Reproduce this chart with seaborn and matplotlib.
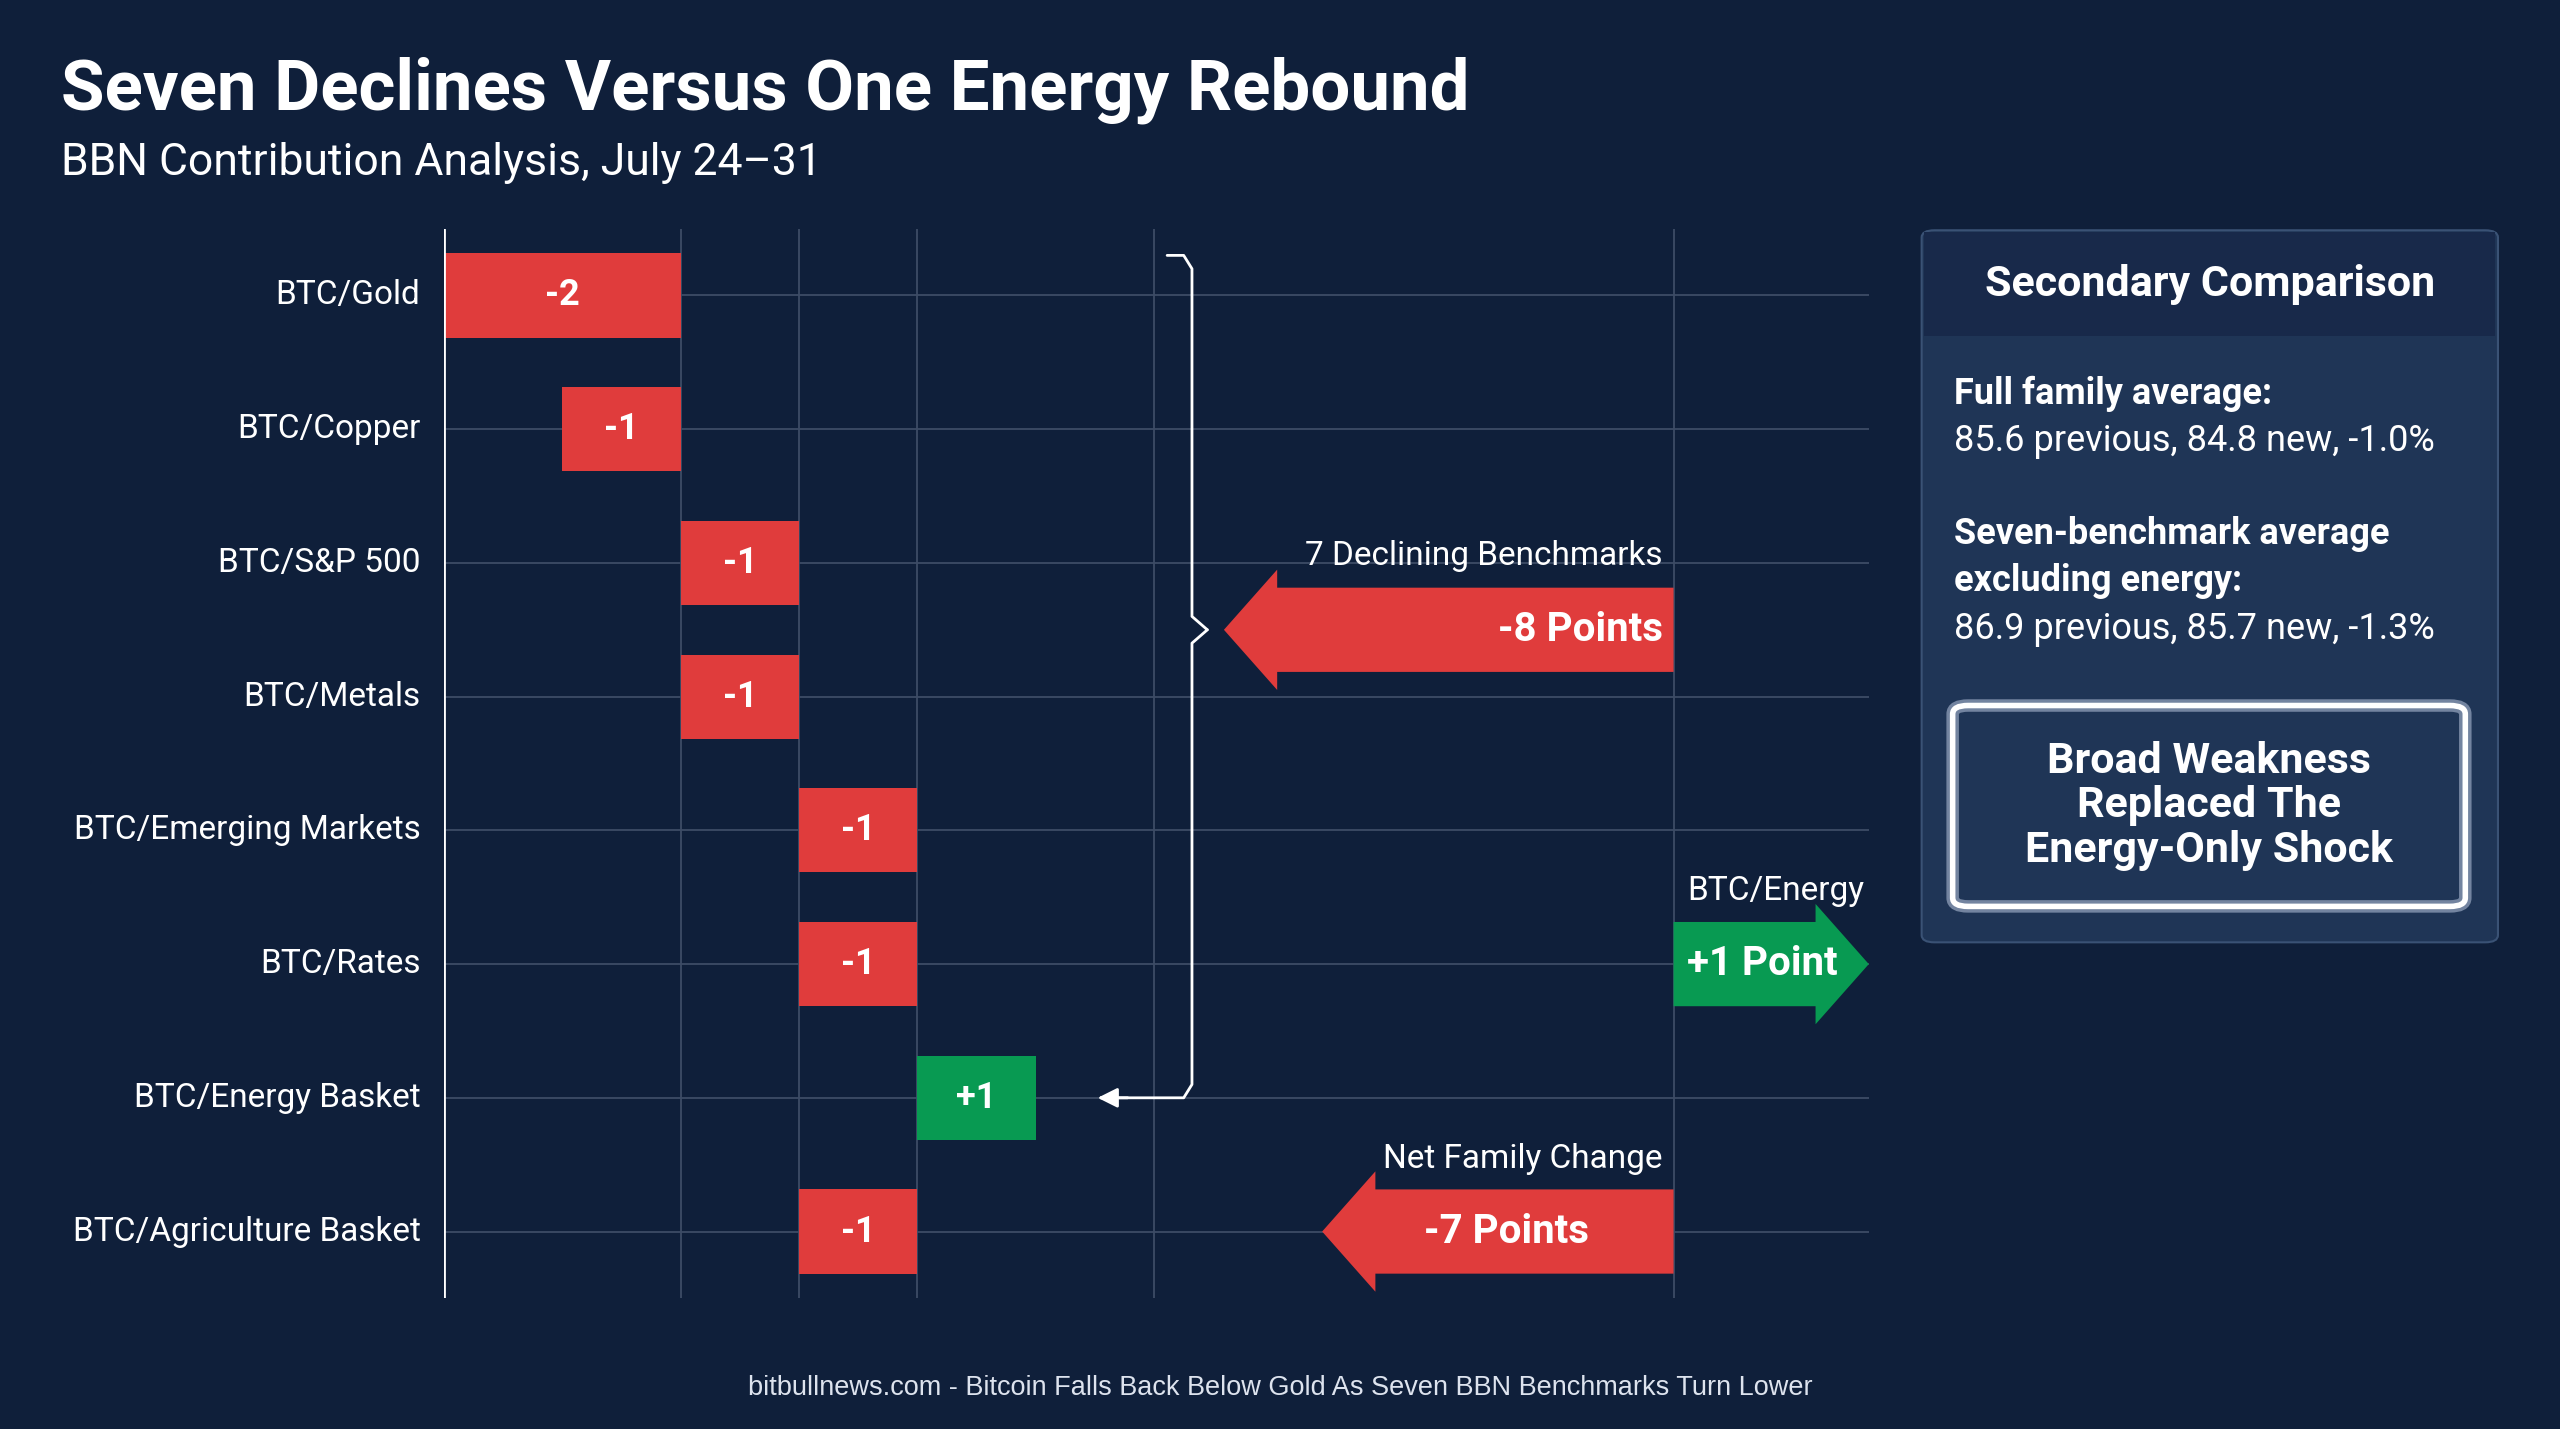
import matplotlib
matplotlib.use("Agg")
import matplotlib.pyplot as plt
import seaborn as sns
from matplotlib.patches import FancyArrow, FancyBboxPatch, Rectangle

categories = ["BTC/Gold", "BTC/Copper", "BTC/S&P 500", "BTC/Metals",
              "BTC/Emerging Markets", "BTC/Rates", "BTC/Energy Basket",
              "BTC/Agriculture Basket"]
changes = [-2, -1, -1, -1, -1, -1, 1, -1]
bar_start = [0, 1, 2, 2, 3, 3, 4, 3]
labels = ["-2", "-1", "-1", "-1", "-1", "-1", "+1", "-1"]
declines_total = -8
energy_total = 1
net_total = -7

BG = "#0f1f3a"
RED = "#e03c3c"
GREEN = "#089a52"
sns.set_theme(style="dark")
plt.rcParams['font.family'] = ['Roboto', 'DejaVu Sans']

fig = plt.figure(figsize=(25.6, 14.29), dpi=100, facecolor=BG)
ax = fig.add_axes([0.1735, 0.0914, 0.730 - 0.1735, 0.84 - 0.0914])
ax.set_facecolor(BG)
ax.set_xlim(0, 12.04)
ax.set_ylim(7.5, -0.5)
for s in ax.spines.values():
    s.set_visible(False)
ax.set_xticks([]); ax.set_yticks([])
ax.grid(False)

for i in range(len(categories)):
    ax.plot([0, 12.04], [i, i], color="#3d4c66", lw=1.3, zorder=1)
for gx in [2, 3, 4, 6, 10.39]:
    ax.plot([gx, gx], [-0.5, 7.5], color="#3d4c66", lw=1.3, zorder=1)
ax.plot([0, 0], [-0.5, 7.5], color="white", lw=2, zorder=3)

for i, (c, st, lb) in enumerate(zip(changes, bar_start, labels)):
    col = RED if c < 0 else GREEN
    ax.barh(i, abs(c), left=st, height=0.63, color=col, edgecolor="none", lw=0, zorder=2)
    ax.text(st + abs(c) / 2, i, lb, color="white", fontsize=26, fontweight="bold",
            ha="center", va="center", zorder=4)
    ax.text(-0.2, i, categories[i], color="white", fontsize=24, ha="right", va="center")

def arrow(x0, x1, y, col):
    ax.add_patch(FancyArrow(x0, y, x1 - x0, 0, width=0.63, head_width=0.9,
                            head_length=0.45, length_includes_head=True,
                            color=col, zorder=3, lw=0))

arrow(10.39, 6.59, 2.5, RED)
ax.text(10.3, 2.5, f"{declines_total} Points", color="white", fontsize=29,
        fontweight="bold", ha="right", va="center", zorder=4)
ax.text(10.3, 1.95, "7 Declining Benchmarks", color="white", fontsize=24, ha="right", va="center")
arrow(10.39, 12.04, 5, GREEN)
ax.text(10.5, 5, f"+{energy_total} Point", color="white", fontsize=29,
        fontweight="bold", ha="left", va="center", zorder=4)
ax.text(12.0, 4.45, "BTC/Energy", color="white", fontsize=24, ha="right", va="center")
arrow(10.39, 7.42, 7, RED)
ax.text(8.98, 7, f"{net_total} Points", color="white", fontsize=29,
        fontweight="bold", ha="center", va="center", zorder=4)
ax.text(10.3, 6.46, "Net Family Change", color="white", fontsize=24, ha="right", va="center")

# brace
ax.plot([6.11, 6.25, 6.32, 6.32, 6.45], [-0.3, -0.3, -0.2, 2.4, 2.5], color="white", lw=2, zorder=3)
ax.plot([6.45, 6.32, 6.32, 6.25, 5.55], [2.5, 2.6, 5.9, 6.0, 6.0], color="white", lw=2, zorder=3)
ax.annotate("", xy=(5.5, 6.0), xytext=(5.8, 6.0),
            arrowprops=dict(arrowstyle="-|>", color="white", lw=2, mutation_scale=30), zorder=3)

# titles
fig.text(0.024, 0.937, "Seven Declines Versus One Energy Rebound", color="white",
         fontsize=51, fontweight="bold", ha="left", va="center")
fig.text(0.024, 0.886, "BBN Contribution Analysis, July 24\u201331", color="white",
         fontsize=32, ha="left", va="center")
fig.text(0.5, 0.029, "bitbullnews.com - Bitcoin Falls Back Below Gold As Seven BBN Benchmarks Turn Lower",
         color="#dde3ee", fontsize=19.5, ha="center", va="center",
         family=['Liberation Sans', 'DejaVu Sans'])

# panel
px0, px1 = 1177 / 1568, 1530 / 1568
py0, py1 = 1 - 577 / 875, 1 - 141 / 875
fig.patches.append(FancyBboxPatch((px0, py0), px1 - px0, py1 - py0,
                                  boxstyle="round,pad=0,rounding_size=0.005",
                                  transform=fig.transFigure, facecolor="#1f3556",
                                  edgecolor="#3a5275", lw=1.5))
fig.patches.append(Rectangle((px0 + 0.001, 1 - 206 / 875), px1 - px0 - 0.002, (206 - 142) / 875,
                             transform=fig.transFigure, facecolor="#18294a", edgecolor="none"))
cx = (px0 + px1) / 2
fig.text(cx, 1 - 174 / 875, "Secondary Comparison", color="white", fontsize=31,
         fontweight="bold", ha="center", va="center")
tx = 1197 / 1568
fig.text(tx, 1 - 241 / 875, "Full family average:", color="white", fontsize=26, fontweight="bold", va="center")
fig.text(tx, 1 - 270 / 875, "85.6 previous, 84.8 new, -1.0%", color="white", fontsize=26, va="center")
fig.text(tx, 1 - 327 / 875, "Seven-benchmark average", color="white", fontsize=26, fontweight="bold", va="center")
fig.text(tx, 1 - 356 / 875, "excluding energy:", color="white", fontsize=26, fontweight="bold", va="center")
fig.text(tx, 1 - 385 / 875, "86.9 previous, 85.7 new, -1.3%", color="white", fontsize=26, va="center")
bx0, bx1 = 1196 / 1568, 1510 / 1568
by0, by1 = 1 - 555 / 875, 1 - 432 / 875
fig.patches.append(FancyBboxPatch((bx0, by0), bx1 - bx0, by1 - by0,
                                  boxstyle="round,pad=0,rounding_size=0.006",
                                  transform=fig.transFigure, facecolor="#1f3556",
                                  edgecolor="#c8d4ea", lw=9, alpha=0.5))
fig.patches.append(FancyBboxPatch((bx0, by0), bx1 - bx0, by1 - by0,
                                  boxstyle="round,pad=0,rounding_size=0.006",
                                  transform=fig.transFigure, facecolor="none",
                                  edgecolor="white", lw=4))
fig.text((bx0 + bx1) / 2, (by0 + by1) / 2, "Broad Weakness\nReplaced The\nEnergy-Only Shock",
         color="white", fontsize=31, fontweight="bold", ha="center", va="center", linespacing=1.1)

fig.savefig("out.png", dpi=100, facecolor=BG)
